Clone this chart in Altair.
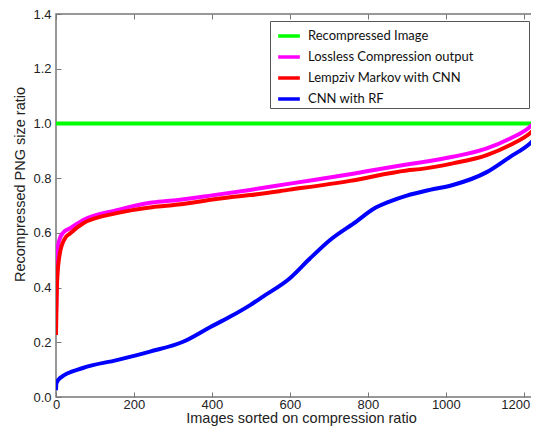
import altair as alt
import pandas as pd

series_names = ["Recompressed Image", "Lossless Compression output",
                "Lempziv Markov with CNN", "CNN with RF"]
series_colors = ["#00ff00", "#ff00ff", "#ff0000", "#0000ff"]

green_x = [0, 1242]
green_y = [1.0, 1.0]

magenta_x = [0, 2, 5, 10, 18, 36, 70, 156, 241, 292, 400, 498, 600, 754, 900,
             934, 1018, 1105, 1165, 1216, 1234, 1242]
magenta_y = [0.30, 0.464, 0.55, 0.58, 0.60, 0.617, 0.647, 0.683, 0.710, 0.717,
             0.737, 0.757, 0.780, 0.814, 0.850, 0.857, 0.878, 0.909, 0.945,
             0.988, 1.015, 1.035]

red_x = [0, 3, 10, 23, 36, 70, 156, 241, 292, 446, 498, 600, 754, 900, 934,
         1018, 1105, 1165, 1216, 1242]
red_y = [0.227, 0.428, 0.526, 0.580, 0.598, 0.635, 0.672, 0.693, 0.700, 0.730,
         0.738, 0.758, 0.790, 0.828, 0.833, 0.854, 0.884, 0.921, 0.964, 1.0]

blue_x = [0, 1, 10, 69, 156, 241, 326, 395, 446, 498, 531, 600, 652, 703, 772,
          813, 857, 900, 959, 1018, 1105, 1165, 1216, 1242]
blue_y = [0.025, 0.05, 0.069, 0.106, 0.135, 0.166, 0.202, 0.255, 0.293, 0.336,
          0.367, 0.434, 0.507, 0.574, 0.643, 0.686, 0.715, 0.736, 0.757, 0.775,
          0.822, 0.878, 0.927, 0.965]

x_ticks = [0, 200, 400, 600, 800, 1000, 1200]
y_ticks = [0.0, 0.2, 0.4, 0.6, 0.8, 1.0, 1.2, 1.4]

rows = []
for name, xs, ys in [(series_names[0], green_x, green_y),
                     (series_names[1], magenta_x, magenta_y),
                     (series_names[2], red_x, red_y),
                     (series_names[3], blue_x, blue_y)]:
    for i, (a, b) in enumerate(zip(xs, ys)):
        rows.append({"series": name, "x": a, "y": b, "i": i})
df = pd.DataFrame(rows)

FONT = "Liberation Sans"
pad_spaces = "\u00a0" * 16 + "\u200b"

xscale = alt.Scale(domain=[0, 1239], nice=False, zero=False)
yscale = alt.Scale(domain=[0, 1.4], nice=False)

lines = alt.Chart(df).mark_line(strokeWidth=4, interpolate="monotone", clip=True).encode(
    x=alt.X("x:Q", scale=xscale,
            axis=alt.Axis(values=x_ticks, format="d", orient="bottom", offset=-5, tickSize=5,
                          domain=False, grid=False, labelPadding=1.5,
                          labelAlign={"condition": {"test": "datum.value >= 1200", "value": "right"},
                                      "value": "center"},
                          labelOffset={"condition": {"test": "datum.value >= 1200", "value": 6},
                                       "value": 0},
                          labelFont=FONT, labelFontSize=13, labelColor="#222",
                          tickColor="#777", tickWidth=1,
                          title="Images sorted on compression ratio",
                          titleFont=FONT, titleFontSize=14.5, titleFontWeight="normal",
                          titleColor="#222", titlePadding=0, titleX=245)),
    y=alt.Y("y:Q", scale=yscale,
            axis=alt.Axis(values=y_ticks, format=".1f", offset=-5, tickSize=5,
                          domain=False, grid=False, labelPadding=5,
                          labelFont=FONT, labelFontSize=13, labelColor="#222",
                          tickColor="#777", tickWidth=1,
                          title="Recompressed PNG size ratio",
                          titleFont=FONT, titleFontSize=14.5, titleFontWeight="normal",
                          titleColor="#222", titlePadding=5, titleY=170)),
    color=alt.Color("series:N",
                    scale=alt.Scale(domain=series_names, range=series_colors),
                    sort=series_names,
                    legend=alt.Legend(orient="none", legendX=214, legendY=7,
                                      title=None, symbolType="stroke",
                                      symbolSize=470, symbolStrokeWidth=3.5,
                                      symbolOffset=4, labelOffset=6,
                                      labelFont="Lato", labelFontSize=13,
                                      labelColor="#111", labelLimit=400,
                                      labelExpr="datum.label + '" + pad_spaces + "'",
                                      fillColor="white", strokeColor="#555",
                                      padding=2, rowPadding=1)),
    order=alt.Order("i:Q"),
)

top_axis = alt.Chart(df).mark_rule(strokeOpacity=0).encode(
    x=alt.X("x:Q", scale=xscale,
            axis=alt.Axis(values=x_ticks, orient="top", offset=-5, tickSize=5,
                          domain=False, grid=False, labels=False, title=None,
                          tickColor="#777", tickWidth=1)),
)

chart = alt.layer(lines, top_axis).properties(
    width=483, height=383,
    autosize=alt.AutoSizeParams(type="none"),
    padding={"left": 48, "top": 6, "right": -8, "bottom": 29},
).configure_view(stroke="#777", strokeWidth=1.5)

chart.save("out.html", embed_options={"renderer": "svg", "actions": False})
